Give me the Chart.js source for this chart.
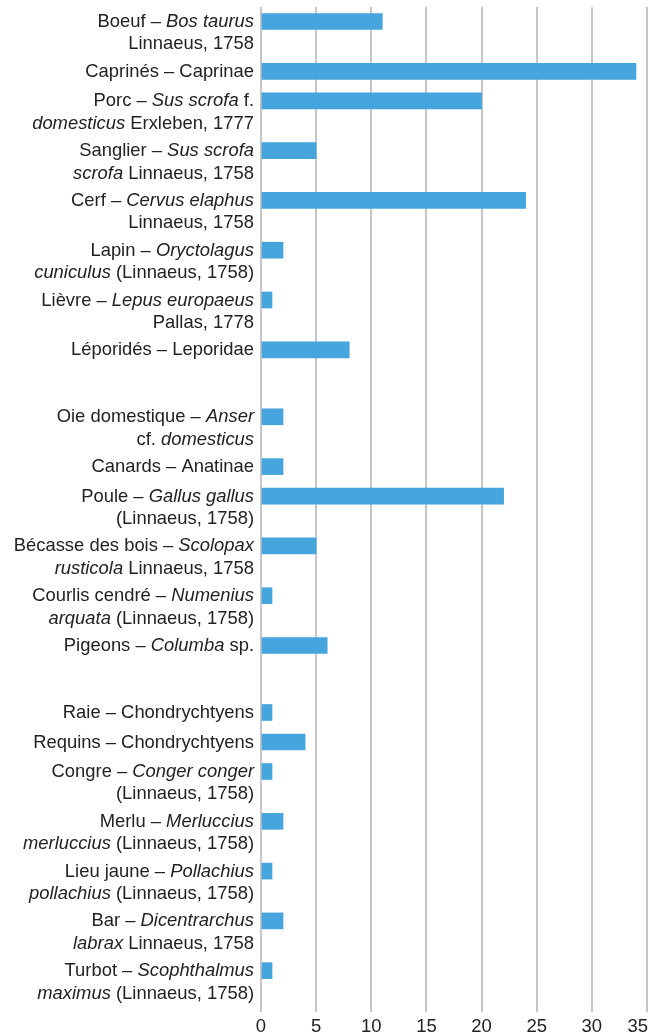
<!DOCTYPE html>
<html>
<head>
<meta charset="utf-8">
<script src="https://cdn.jsdelivr.net/npm/chart.js@4.4.0/dist/chart.umd.min.js"></script>
<style>
  html, body { margin: 0; padding: 0; background: #fff; }
  #wrap { width: 651px; height: 1036px; }
</style>
</head>
<body>
<div id="wrap"><canvas id="chart"></canvas></div>
<script>
// labels: "\n" = line break, *...* = italic; "" = blank row between groups
const labels = [
  "Boeuf – *Bos taurus*\nLinnaeus, 1758",
  "Caprinés – Caprinae",
  "Porc – *Sus scrofa* f.\n*domesticus* Erxleben, 1777",
  "Sanglier – *Sus scrofa*\n*scrofa* Linnaeus, 1758",
  "Cerf – *Cervus elaphus*\nLinnaeus, 1758",
  "Lapin – *Oryctolagus*\n*cuniculus* (Linnaeus, 1758)",
  "Lièvre – *Lepus europaeus*\nPallas, 1778",
  "Léporidés – Leporidae",
  "",
  "Oie domestique – *Anser*\ncf. *domesticus*",
  "Canards – Anatinae",
  "Poule – *Gallus gallus*\n(Linnaeus, 1758)",
  "Bécasse des bois – *Scolopax*\n*rusticola* Linnaeus, 1758",
  "Courlis cendré – *Numenius*\n*arquata* (Linnaeus, 1758)",
  "Pigeons – *Columba* sp.",
  "",
  "Raie – Chondrychtyens",
  "Requins – Chondrychtyens",
  "Congre – *Conger conger*\n(Linnaeus, 1758)",
  "Merlu – *Merluccius*\n*merluccius* (Linnaeus, 1758)",
  "Lieu jaune – *Pollachius*\n*pollachius* (Linnaeus, 1758)",
  "Bar – *Dicentrarchus*\n*labrax* Linnaeus, 1758",
  "Turbot – *Scophthalmus*\n*maximus* (Linnaeus, 1758)"
];
const counts = [11, 34, 20, 5, 24, 2, 1, 8, null, 2, 2, 22, 5, 1, 6, null, 1, 4, 1, 2, 1, 2, 1];
const xTicks = [0, 5, 10, 15, 20, 25, 30, 35];

const FONT = '"Liberation Sans", Arial, Helvetica, sans-serif';
const TEXT = '#222222';
const LABEL_SIZE = 18.4;

// rows are taller when the label wraps onto two lines
function rowHeight(label) {
  if (!label) return 37.5;
  return 9.2 + 20.3 * label.split('\n').length;
}
const positions = [];
let acc = 14.5;
labels.forEach(l => { positions.push(acc); acc += rowHeight(l); });

const points = [];
labels.forEach((l, i) => { if (l) points.push({ x: counts[i], y: positions[i] }); });

function parseLine(line) {
  return line.split('*').map((t, i) => ({ text: t, italic: i % 2 === 1 })).filter(s => s.text);
}

const labelPlugin = {
  id: 'richLabels',
  afterDraw(chart) {
    const ctx = chart.ctx;
    const yScale = chart.scales.y;
    const xScale = chart.scales.x;
    const area = chart.chartArea;
    ctx.save();
    ctx.fillStyle = TEXT;
    ctx.textBaseline = 'alphabetic';
    ctx.textAlign = 'left';
    labels.forEach((lab, i) => {
      if (!lab) return;
      const cy = yScale.getPixelForValue(positions[i]);
      lab.split('\n').forEach((line, k) => {
        const segs = parseLine(line);
        let w = 0;
        segs.forEach(s => {
          ctx.font = (s.italic ? 'italic ' : '') + LABEL_SIZE + 'px ' + FONT;
          s.w = ctx.measureText(s.text).width;
          w += s.w;
        });
        let px = area.left - 7 - w;
        segs.forEach(s => {
          ctx.font = (s.italic ? 'italic ' : '') + LABEL_SIZE + 'px ' + FONT;
          ctx.fillText(s.text, px, cy + 5.5 + k * 22.4);
          px += s.w;
        });
      });
    });
    // x tick labels, kept inside the canvas
    ctx.font = '18.5px ' + FONT;
    ctx.textAlign = 'center';
    xScale.ticks.forEach((t, i) => {
      const txt = String(t.value);
      const w = ctx.measureText(txt).width;
      const px = Math.min(xScale.getPixelForTick(i), chart.width - w / 2 - 3);
      ctx.fillText(txt, px, area.bottom + 19.5);
    });
    ctx.restore();
  }
};

new Chart(document.getElementById('chart'), {
  type: 'bar',
  data: {
    datasets: [{
      data: points,
      backgroundColor: '#45a5dc',
      borderWidth: 0,
      barThickness: 16
    }]
  },
  options: {
    indexAxis: 'y',
    responsive: true,
    maintainAspectRatio: false,
    animation: false,
    layout: { padding: { left: 261, right: 4, top: 7, bottom: 24 } },
    plugins: { legend: { display: false }, tooltip: { enabled: false } },
    scales: {
      x: {
        type: 'linear',
        min: 0,
        max: 35,
        afterBuildTicks: s => { s.ticks = xTicks.map(v => ({ value: v })); },
        grid: { color: '#c5c5ca', lineWidth: 2, drawTicks: false },
        border: { display: false },
        ticks: { display: false },
        afterFit: s => { s.height = 0; s.paddingLeft = 0; s.paddingRight = 0; }
      },
      y: {
        type: 'linear',
        display: false,
        reverse: true,
        offset: false,
        grid: { offset: false },
        min: 0,
        max: 1005
      }
    }
  },
  plugins: [labelPlugin]
});
</script>
</body>
</html>
